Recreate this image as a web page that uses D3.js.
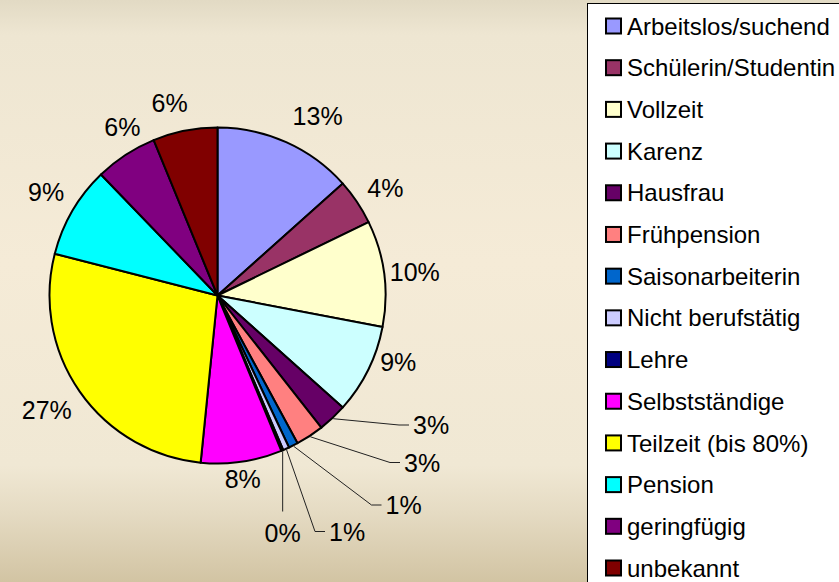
<!DOCTYPE html>
<html>
<head>
<meta charset="utf-8">
<script src="https://d3js.org/d3.v7.min.js"></script>
<style>
  body { margin: 0; }
  svg text { font-family: "Liberation Sans", Arial, sans-serif; fill: #000; }
</style>
</head>
<body>
<div id="chart"></div>
<script>
// data (percent shares)
const categories = ["Arbeitslos/suchend", "Schülerin/Studentin", "Vollzeit", "Karenz", "Hausfrau",
  "Frühpension", "Saisonarbeiterin", "Nicht berufstätig", "Lehre", "Selbstständige",
  "Teilzeit (bis 80%)", "Pension", "geringfügig", "unbekannt"];
const shares = [13.4, 4.4, 10.2, 8.6, 2.8, 2.7, 0.9, 0.6, 0.2, 7.8, 27.4, 8.8, 6.0, 6.2];
const colors = ["#9999FF", "#993366", "#FFFFCC", "#CCFFFF", "#660066", "#FF8080", "#0066CC",
  "#CCCCFF", "#000080", "#FF00FF", "#FFFF00", "#00FFFF", "#800080", "#800000"];

// layout: small slices get callout labels (leader end offsets from the pie centre)
const calloutIdx = [4, 5, 6, 7, 8];
const calloutEnd = [[181.5, 129.5], [172.5, 167], [154, 209.5], [97.5, 236], [67.5, 216]];
// layout: small nudges for the other labels, like Excel's best fit placement
const labelNudge = {0: [20, -1], 1: [5, 2], 2: [3, 2], 3: [5, -20], 9: [-3, -10],
  10: [-10, 2], 11: [-2, -5], 12: [12, -4], 13: [-10, 0]};

const W = 839, H = 582;
const cx = 217.5, cy = 295.5, R = 168;

const svg = d3.select("#chart").append("svg")
  .attr("width", W).attr("height", H);

// background gradient
const defs = svg.append("defs");
const grad = defs.append("linearGradient").attr("id", "bg")
  .attr("x1", 0).attr("y1", 0).attr("x2", 0).attr("y2", 1);
[[0, "#E2DAC4"], [0.06, "#EEE6D2"], [0.45, "#F5EBD7"], [0.8, "#F0E8D4"], [0.88, "#E5DBC3"], [1, "#D2C4A3"]]
  .forEach(s => grad.append("stop").attr("offset", s[0]).attr("stop-color", s[1]));
svg.append("rect").attr("width", W).attr("height", H).attr("fill", "url(#bg)");

const total = d3.sum(shares);
const pct = v => Math.round(v / total * 100) + "%";

const pie = d3.pie().sort(null).value(d => d)(shares);
const arc = d3.arc().innerRadius(0).outerRadius(R);

const g = svg.append("g").attr("transform", `translate(${cx},${cy})`);

g.selectAll("path.slice")
  .data(pie)
  .join("path")
  .attr("class", "slice")
  .attr("d", arc)
  .attr("fill", (d, i) => colors[i])
  .attr("stroke", "#000")
  .attr("stroke-width", 2)
  .attr("stroke-linejoin", "round");

// normal labels on the mid angle outside the pie
const labelArc = d3.arc().innerRadius(R + 28).outerRadius(R + 28);
g.selectAll("text.lbl")
  .data(pie.filter((d, i) => !calloutIdx.includes(i)))
  .join("text")
  .attr("class", "lbl")
  .attr("transform", d => {
    const [x, y] = labelArc.centroid(d);
    const n = labelNudge[d.index] || [0, 0];
    return `translate(${x + n[0]},${y + n[1]})`;
  })
  .attr("text-anchor", "middle")
  .attr("dy", "0.36em")
  .style("font-size", "25px")
  .text(d => pct(d.value));

// callout labels with leader lines
calloutIdx.forEach((idx, k) => {
  const d = pie[idx];
  const a = (d.startAngle + d.endAngle) / 2;
  const sx = Math.sin(a) * (R + 1), sy = -Math.cos(a) * (R + 1);
  const [ex, ey] = calloutEnd[k];
  const vertical = k === calloutIdx.length - 1;
  const pts = vertical ? [[sx, sy], [sx, ey]] : [[sx, sy], [ex, ey], [ex + 10, ey]];
  g.append("path")
    .attr("d", d3.line()(pts))
    .attr("fill", "none")
    .attr("stroke", "#222")
    .attr("stroke-width", 1);
  g.append("text")
    .attr("x", vertical ? sx : ex + 14)
    .attr("y", vertical ? ey + 21 : ey)
    .attr("dy", "0.36em")
    .attr("text-anchor", vertical ? "middle" : "start")
    .style("font-size", "25px")
    .text(pct(d.value));
});

// legend
const lg = svg.append("g");
lg.append("rect")
  .attr("x", 587.5).attr("y", 3.5)
  .attr("width", 300).attr("height", 620)
  .attr("fill", "#fff").attr("stroke", "#000").attr("stroke-width", 1);

const rowY = d3.scalePoint().domain(categories).range([26, 568]);
const items = lg.selectAll("g.item")
  .data(categories)
  .join("g")
  .attr("class", "item")
  .attr("transform", d => `translate(0,${rowY(d)})`);
items.append("rect")
  .attr("x", 606).attr("y", -7.5)
  .attr("width", 15).attr("height", 15)
  .attr("fill", (d, i) => colors[i])
  .attr("stroke", "#000").attr("stroke-width", 2);
items.append("text")
  .attr("x", 627)
  .attr("dy", "0.36em")
  .style("font-size", "24px")
  .text(d => d);
</script>
</body>
</html>
